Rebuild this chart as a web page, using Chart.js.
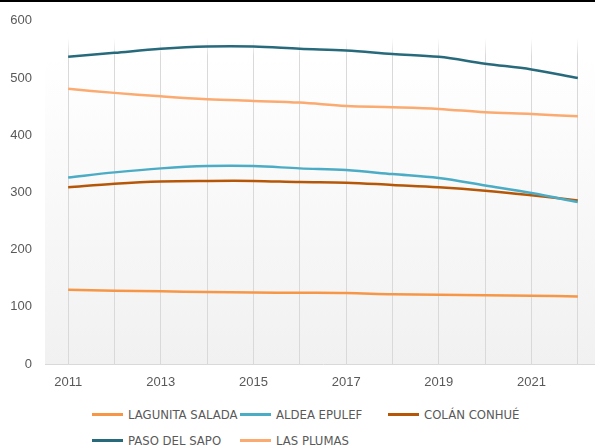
<!DOCTYPE html>
<html lang="es">

<head>
    <meta charset="UTF-8">
    <title>Población</title>
    <script src="https://cdn.jsdelivr.net/npm/chart.js"></script>
    <style>
        body {
            margin: 0;
            width: 595px;
            height: 446px;
            overflow: hidden;
            position: relative;
            background: #fff;
        }

        .barra {
            position: absolute;
            top: 0;
            left: 0;
            width: 595px;
            height: 2px;
            background: #000;
            z-index: 2;
        }

        .grafico {
            position: absolute;
            top: 0;
            left: 0;
            width: 601px;
            height: 395px;
        }

        .leyenda {
            position: absolute;
            top: 401px;
            left: 92px;
            display: grid;
            grid-template-columns: 148px 148px 148px;
            grid-auto-rows: 26px;
            font-family: "Liberation Sans Narrow", "DejaVu Sans Condensed", "Liberation Sans", sans-serif;
            font-size: 13px;
            color: #595959;
        }

        .item {
            display: flex;
            align-items: center;
            white-space: nowrap;
        }

        .item span.linea {
            display: inline-block;
            width: 31px;
            height: 3px;
            margin-right: 5px;
        }
    </style>
</head>

<body>
    <div class="barra"></div>
    <div class="grafico">
        <canvas id="lineChart"></canvas>
    </div>
    <div class="leyenda" id="leyenda"></div>
</body>

</html>
<script>
    var anios = ["2011", "2012", "2013", "2014", "2015", "2016", "2017", "2018", "2019", "2020", "2021", "2022"];
    var nombres = ["LAGUNITA SALADA", "ALDEA EPULEF", "COLÁN CONHUÉ", "PASO DEL SAPO", "LAS PLUMAS"];
    var colores = ["#f79646", "#4bacc6", "#b65708", "#276a7c", "#fbaa70"];

    var lagunitaSalada = [130, 128, 127, 126, 125, 124.5, 124, 122, 121, 120, 119.5, 118];
    var aldeaEpulef = [326, 335, 342, 346, 346, 342, 339, 332, 325, 312, 299, 283];
    var colanConhue = [309, 315, 319, 320, 320, 318, 317, 313, 309, 303, 295, 286];
    var pasoDelSapo = [537, 544, 551, 555, 555, 551, 548, 542, 537, 525, 515, 500];
    var lasPlumas = [481, 474, 468, 463, 460, 457, 451, 449, 446, 440, 437, 433];

    var series = [lagunitaSalada, aldeaEpulef, colanConhue, pasoDelSapo, lasPlumas];

    // fondo degradado del area de trazado
    var fondo = {
        id: "fondo",
        beforeDraw: function (chart) {
            var a = chart.chartArea;
            var ctx = chart.ctx;
            var g = ctx.createLinearGradient(0, a.top, 0, a.bottom);
            g.addColorStop(0, "#ffffff");
            g.addColorStop(0.1, "#ffffff");
            g.addColorStop(1, "#f1f1f1");
            ctx.save();
            ctx.fillStyle = g;
            ctx.fillRect(a.left, a.top, a.right - a.left, a.bottom - a.top);
            ctx.restore();
        }
    };

    function colorGrilla(context) {
        var chart = context.chart;
        if (!chart.chartArea) {
            return "#d9d9d9";
        }
        var g = chart.ctx.createLinearGradient(0, 38, 0, 56);
        g.addColorStop(0, "rgba(217,217,217,0)");
        g.addColorStop(1, "rgba(217,217,217,1)");
        return g;
    }

    var datasets = [];
    for (var i = 0; i < series.length; i++) {
        datasets.push({
            label: nombres[i],
            data: series[i],
            borderColor: colores[i],
            backgroundColor: colores[i],
            borderWidth: 2.5,
            pointRadius: 0,
            tension: 0.35,
            fill: false
        });
    }

    const config = {
        type: "line",
        data: {
            labels: anios,
            datasets: datasets
        },
        options: {
            responsive: true,
            maintainAspectRatio: false,
            animation: false,
            layout: {
                padding: { top: 18, right: 0, bottom: 0, left: 0 }
            },
            plugins: {
                legend: { display: false },
                tooltip: { enabled: false }
            },
            scales: {
                x: {
                    offset: true,
                    grid: {
                        color: colorGrilla,
                        lineWidth: 1,
                        drawTicks: false
                    },
                    border: { color: "#d9d9d9", width: 1 },
                    ticks: {
                        autoSkip: false,
                        maxRotation: 0,
                        padding: 11,
                        color: "#595959",
                        font: { family: "Liberation Sans", size: 13 },
                        callback: function (valor, indice) {
                            return indice % 2 == 0 ? anios[indice] : "";
                        }
                    },
                    afterFit: function (escala) {
                        escala.height = 31;
                    }
                },
                y: {
                    min: 0,
                    max: 600,
                    grid: { display: false, drawTicks: false },
                    border: { display: false },
                    ticks: {
                        stepSize: 100,
                        padding: 13,
                        color: "#595959",
                        font: { family: "Liberation Sans", size: 13 }
                    },
                    afterFit: function (escala) {
                        escala.width = 45;
                    }
                }
            }
        },
        plugins: [fondo]
    };

    var mychartLine = new Chart(document.getElementById("lineChart"), config);

    // leyenda en dos filas alineadas por columnas
    var leyenda = document.getElementById("leyenda");
    for (var j = 0; j < nombres.length; j++) {
        var item = document.createElement("div");
        item.className = "item";
        item.innerHTML = '<span class="linea" style="background:' + colores[j] + '"></span>' + nombres[j];
        leyenda.appendChild(item);
    }
</script>
